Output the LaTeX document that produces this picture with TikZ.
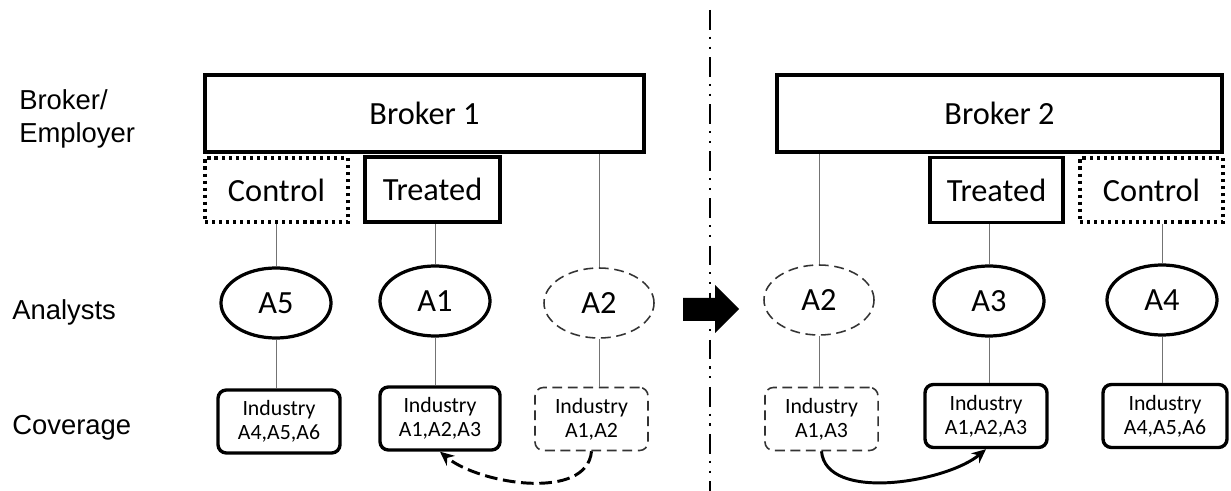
\documentclass[tikz,border=0pt]{standalone}
\usepackage{fontspec}
\setmainfont{Carlito}
\newfontfamily\sidefont{Liberation Sans}
\usetikzlibrary{arrows.meta,shapes.geometric}
\tikzstyle{broker}=[draw,%
                    rectangle,%
                    line width    = 2.6pt,%
                    minimum height= 1.925cm,%
                    font=\fontsize{23}{26}\selectfont]
\tikzstyle{treated}=[draw,rectangle,line width=2.4pt,minimum height=1.625cm,font=\fontsize{23}{26}\selectfont]
\tikzstyle{control}=[draw,rectangle,line width=2.2pt,dash pattern=on 2.2pt off 2.8pt,minimum height=1.6cm,font=\fontsize{23}{26}\selectfont]
\tikzstyle{analyst}=[draw,ellipse,line width=2.3pt,inner sep=0pt,minimum width=2.75cm,minimum height=1.75cm,font=\fontsize{23}{26}\selectfont]
\tikzstyle{analystgone}=[analyst,line width=1.1pt,dash pattern=on 7pt off 4pt,draw=black!80]
\tikzstyle{coverage}=[draw,rectangle,rounded corners=6pt,line width=2.4pt,minimum height=1.575cm,align=center,%
                      font=\fontsize{15.5}{17}\selectfont]
\tikzstyle{coveragegone}=[coverage,line width=1.1pt,dash pattern=on 7pt off 4pt,draw=black!80]
\tikzstyle{side}=[anchor=base west,inner sep=0pt,align=left,font=\sidefont\fontsize{19.5}{22}\selectfont]
\tikzstyle{link}=[draw=black!55,line width=0.7pt]
\tikzstyle{divider}=[line width=1.4pt,dash pattern=on 14pt off 5pt on 1.5pt off 5.5pt on 1.5pt off 6pt]

\begin{document}
\begin{tikzpicture}[x=0.025cm,y=-0.025cm]
  \useasboundingbox (0,0) rectangle (1231,491);
  % row labels
  \node[side] (lbroker) at (19,143) {Broker/\\[1.5pt]Employer};
  \node[side] (lanalyst) at (12,320) {Analysts};
  \node[side] (lcover) at (12,435) {Coverage};
  % before
  \node[broker,minimum width=10.975cm] (broker1) at (424.5,113.5) {Broker 1};
  \node[control,minimum width=3.575cm] (ctrl1) at (276.5,190) {Control};
  \node[treated,minimum width=3.375cm] (treat1) at (432.5,189.5) {Treated};
  \node[analyst] (a5) at (276,303) {A5};
  \node[analyst] (a1) at (435,301) {A1};
  \node[analystgone] (a2l) at (599,303) {A2};
  \node[coverage,minimum width=3.05cm] (cov1) at (279,421.5) {Industry\\A4,A5,A6};
  \node[coverage,minimum width=3.0cm] (cov2) at (440,418.5) {Industry\\A1,A2,A3};
  \node[coveragegone,minimum width=2.825cm] (cov3) at (591.5,419) {Industry\\A1,A2};
  % after
  \node[broker,minimum width=11.125cm] (broker2) at (999.5,113.5) {Broker 2};
  \node[treated,minimum width=3.325cm] (treat2) at (996.5,190) {Treated};
  \node[control,minimum width=3.575cm] (ctrl2) at (1151.5,190) {Control};
  \node[analystgone] (a2r) at (819,300) {A2};
  \node[analyst] (a3) at (989,301) {A3};
  \node[analyst] (a4) at (1162,300) {A4};
  \node[coveragegone,minimum width=2.825cm] (cov4) at (821.5,419) {Industry\\A1,A3};
  \node[coverage,minimum width=3.05cm] (cov5) at (986,416) {Industry\\A1,A2,A3};
  \node[coverage,minimum width=3.1cm] (cov6) at (1165,416) {Industry\\A4,A5,A6};

  \draw[link] (a5.north) -- (a5.north |- ctrl1.south);
  \draw[link] (a1.north) -- (a1.north |- treat1.south);
  \draw[link] (a2l.north) -- (a2l.north |- broker1.south);
  \draw[link] (a2r.north) -- (a2r.north |- broker2.south);
  \draw[link] (a3.north) -- (a3.north |- treat2.south);
  \draw[link] (a4.north) -- (a4.north |- ctrl2.south);
  \draw[link] (a5.south) -- (a5.south |- cov1.north);
  \draw[link] (a1.south) -- (a1.south |- cov2.north);
  \draw[link] (a2l.south) -- (a2l.south |- cov3.north);
  \draw[link] (a2r.south) -- (a2r.south |- cov4.north);
  \draw[link] (a3.south) -- (a3.south |- cov5.north);
  \draw[link] (a4.south) -- (a4.south |- cov6.north);

  \draw[line width=2.1pt,dash pattern=on 9pt off 4pt,-{Stealth[length=10pt,width=9pt]}] (cov3.south) to[out=-95,in=-40,looseness=0.85] (cov2.south);
  \draw[line width=2.1pt,-{Stealth[length=10pt,width=9pt]}] (cov4.south) to[out=-85,in=-140,looseness=0.8] (cov5.south);

  % split and shift
  \coordinate (divtop) at (710,10);
  \coordinate (divbot) at (710,491);
  \draw[divider] (divtop) -- (divbot);
  \fill (683,298) -- (715,298) -- (715,285) -- (739,309) -- (715,333) -- (715,321) -- (683,321) -- cycle;
\end{tikzpicture}
\end{document}
